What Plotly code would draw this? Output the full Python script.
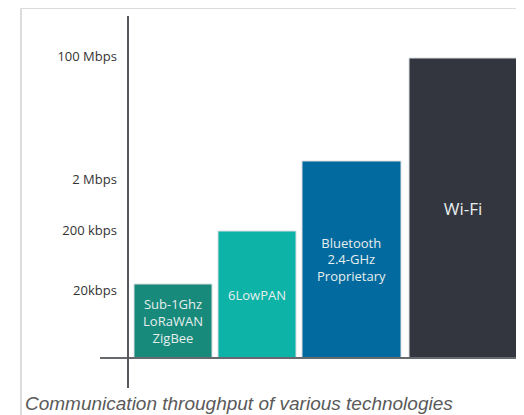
import plotly.graph_objects as go

# Data (heights, in relative chart units)
categories = ["Sub-1Ghz<br>LoRaWAN<br>ZigBee", "6LowPAN", "Bluetooth<br>2.4-GHz<br>Proprietary", "Wi-Fi"]
bar_heights = [74, 127, 197, 300]
bar_centers = [46, 130, 224.5, 336]
bar_widths = [78, 78, 99, 108]
bar_colors = ["#178a7b", "#0db3a6", "#026a9e", "#34363f"]
text_sizes = [13, 13, 13, 17]
tick_vals = [68, 128, 179, 302]
tick_text = ["20kbps", "200 kbps", "2 Mbps", "100 Mbps"]
caption = "Communication throughput of various technologies"

W, H = 516, 407  # page body has an 8px margin

fig = go.Figure()
fig.add_trace(go.Bar(
    x=bar_centers,
    y=bar_heights,
    width=bar_widths,
    text=categories,
    textposition="inside",
    insidetextanchor="middle",
    textangle=0,
    textfont=dict(family="Open Sans, Noto Sans, sans-serif", size=text_sizes, color="#e6eeee"),
    marker=dict(color=bar_colors, line=dict(color="#d9dde0", width=1)),
    hoverinfo="skip",
))

fig.update_layout(
    width=W, height=H,
    margin=dict(l=92, r=0, t=8, b=27),
    paper_bgcolor="white",
    plot_bgcolor="white",
    showlegend=False,
    uniformtext=dict(mode=False),
    title=dict(
        text=caption,
        xref="container", x=17 / W, xanchor="left",
        yref="container", y=1 - 395 / H, yanchor="middle",
        font=dict(family="Liberation Sans, Arial, sans-serif", size=19, color="#5a5a5a", style="italic"),
    ),
    xaxis=dict(
        range=[-27, 397],
        showgrid=False, zeroline=False, showticklabels=False,
        showline=True, linecolor="#666a6e", linewidth=2,
        anchor="free", position=(388 - 358) / 372,
        fixedrange=True,
    ),
    yaxis=dict(
        range=[-30, 342],
        showgrid=False, zeroline=False,
        tickvals=tick_vals, ticktext=tick_text,
        ticks="", ticklabelstandoff=7,
        tickfont=dict(family="Open Sans, Noto Sans, sans-serif", size=13, color="#333333"),
        showline=True, linecolor="#55585c", linewidth=2,
        anchor="free", position=27.5 / 424,
        fixedrange=True,
    ),
    shapes=[dict(
        type="rect", xref="paper", yref="paper",
        x0=(21 - 100) / 424, x1=1.05,
        y0=-0.1, y1=(388 - 8) / 372,
        line=dict(color="#dcdcdc", width=2),
        fillcolor="rgba(0,0,0,0)",
        layer="below",
    )],
)

fig.write_html("out.html")
